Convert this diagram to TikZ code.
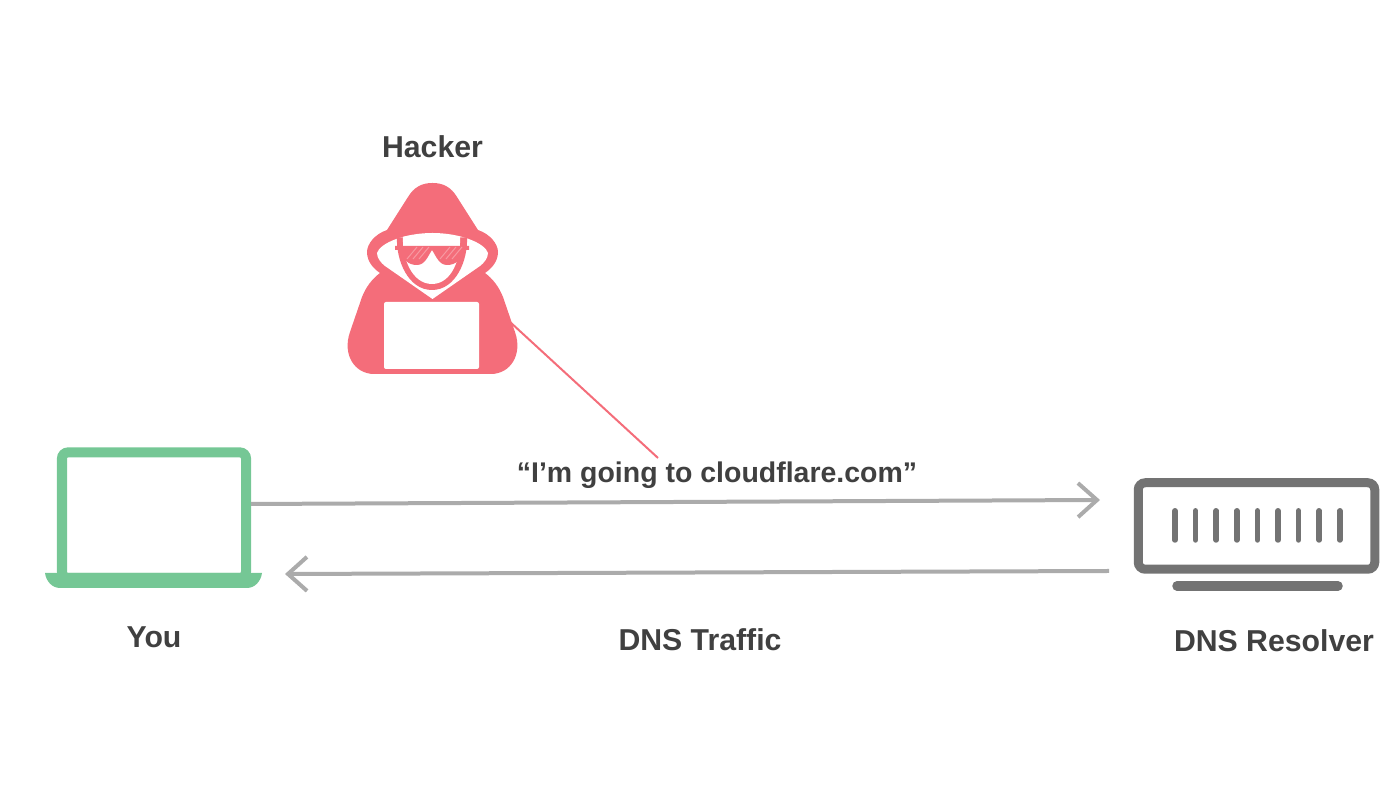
\documentclass[tikz,border=0pt]{standalone}
\usepackage{fontspec}
\setmainfont{Liberation Sans}
\usepackage{tikz}
\usetikzlibrary{arrows.meta, positioning}
\definecolor{youcolor}{HTML}{75C795}
\definecolor{hackercolor}{HTML}{F46D7A}
\definecolor{resolvercolor}{HTML}{737373}
\definecolor{trafficcolor}{HTML}{ABABAB}
\definecolor{labelcolor}{HTML}{404040}
\tikzset{%
  label/.style={font=\bfseries\fontsize{8.6}{10}\selectfont, text=labelcolor, inner sep=0pt},
  smalllabel/.style={label, font=\bfseries\fontsize{8.1}{10}\selectfont},
  youscreen/.style={rectangle, draw=youcolor, line width=0.1cm, rounded corners=0.06cm, minimum width=1.84cm, minimum height=1.255cm, inner sep=0pt},
  resolverbox/.style={rectangle, draw=resolvercolor, line width=0.09cm, rounded corners=0.07cm, minimum width=2.365cm, minimum height=0.865cm, inner sep=0pt},
  hackerscreen/.style={rectangle, fill=white, rounded corners=0.02cm, minimum width=0.95cm, minimum height=0.67cm, inner sep=0pt},
  line/.style={draw, trafficcolor, line width=0.04cm, -{Straight Barb[length=0.19cm, width=0.34cm]}},
  tapline/.style={draw, hackercolor, line width=0.02cm},
  rack/.style={draw, resolvercolor, line width=0.055cm, line cap=round}}
\begin{document}
\begin{tikzpicture}
    \useasboundingbox (0, 0) rectangle (14, 8);

    % hacker
    \fill [hackercolor] (4.325, 6.17) .. controls (4.22, 6.17) and (4.14, 6.13) .. (4.08, 6.03)
      -- (3.87, 5.70) .. controls (3.75, 5.66) and (3.67, 5.56) .. (3.67, 5.48)
      .. controls (3.67, 5.38) and (3.74, 5.31) .. (3.80, 5.27)
      .. controls (3.72, 5.21) and (3.66, 5.13) .. (3.62, 5.03)
      -- (3.50, 4.68) .. controls (3.42, 4.45) and (3.55, 4.26) .. (3.74, 4.26)
      -- (4.91, 4.26) .. controls (5.10, 4.26) and (5.23, 4.45) .. (5.15, 4.68)
      -- (5.03, 5.03) .. controls (4.99, 5.13) and (4.93, 5.21) .. (4.85, 5.27)
      .. controls (4.91, 5.31) and (4.98, 5.38) .. (4.98, 5.48)
      .. controls (4.98, 5.56) and (4.90, 5.66) .. (4.78, 5.70)
      -- (4.57, 6.03) .. controls (4.51, 6.13) and (4.43, 6.17) .. (4.325, 6.17) -- cycle;
    % collar
    \fill [white] (3.77, 5.47) .. controls (3.80, 5.57) and (4.05, 5.67) .. (4.325, 5.67)
      .. controls (4.60, 5.67) and (4.85, 5.57) .. (4.88, 5.47)
      .. controls (4.88, 5.42) and (4.84, 5.37) .. (4.80, 5.34)
      -- (4.325, 5.01) -- (3.85, 5.34)
      .. controls (3.81, 5.37) and (3.77, 5.42) .. (3.77, 5.47) -- cycle;
    % face
    \fill [hackercolor] (3.97, 5.625) .. controls (3.96, 5.40) and (4.08, 5.10) .. (4.32, 5.10)
      .. controls (4.56, 5.10) and (4.68, 5.40) .. (4.67, 5.625) -- cycle;
    \fill [white] (4.03, 5.63) .. controls (4.15, 5.665) and (4.49, 5.665) .. (4.60, 5.63)
      .. controls (4.61, 5.42) and (4.52, 5.16) .. (4.32, 5.16)
      .. controls (4.12, 5.16) and (4.02, 5.42) .. (4.03, 5.63) -- cycle;
    % glasses
    \fill [hackercolor] (3.95, 5.54) -- (4.69, 5.54) -- (4.69, 5.50) -- (4.62, 5.50)
      .. controls (4.61, 5.40) and (4.56, 5.35) .. (4.47, 5.35)
      .. controls (4.39, 5.35) and (4.36, 5.44) .. (4.32, 5.50)
      .. controls (4.28, 5.44) and (4.25, 5.35) .. (4.17, 5.35)
      .. controls (4.08, 5.35) and (4.03, 5.40) .. (4.02, 5.50) -- (3.95, 5.50) -- cycle;
    \foreach \i in {0, 1, 2} {
      \draw [white, opacity=0.3, line width=0.01cm] (4.07 + 0.06 * \i, 5.41) -- (4.17 + 0.06 * \i, 5.53);
      \draw [white, opacity=0.3, line width=0.01cm] (4.40 + 0.06 * \i, 5.41) -- (4.50 + 0.06 * \i, 5.53);
    }
    \node [hackerscreen] (tap) at (4.315, 4.645) {};
    \node [label] (hacker) at (4.325, 6.53) {Hacker};
    \coordinate (tapstart) at (5.10, 4.78);
    \coordinate (tapend) at (6.58, 3.42);
    \path [tapline] (tapstart) -- (tapend);

    % you
    \node [youscreen] (you) at (1.54, 2.848) {};
    \fill [youcolor] (0.45, 2.27) -- (2.62, 2.27) .. controls (2.61, 2.19) and (2.55, 2.12) .. (2.47, 2.12)
      -- (0.60, 2.12) .. controls (0.52, 2.12) and (0.46, 2.19) .. (0.45, 2.27) -- cycle;
    \node [label] (youlabel) at (1.54, 1.63) {You};

    % resolver
    \node [resolverbox] (resolver) at (12.565, 2.74) {};
    \foreach \i in {0, ..., 8} {
      \draw [rack] (11.75 + 0.206 * \i, 2.892) -- (11.75 + 0.206 * \i, 2.60);
    }
    \draw [resolvercolor, line width=0.095cm, line cap=round] (11.77, 2.14) -- (13.38, 2.14);
    \node [label] (resolverlabel) at (12.74, 1.59) {DNS Resolver};

    % traffic
    \coordinate (youout) at (2.51, 2.96);
    \coordinate (resolverin) at (11.00, 3.00);
    \coordinate (resolverout) at (11.09, 2.29);
    \coordinate (youin) at (2.85, 2.26);
    \path [line] (youout) -- (resolverin);
    \path [line] (resolverout) -- (youin);
    \node [smalllabel] (quote) at (7.17, 3.25) {“I’m going to cloudflare.com”};
    \node [label] (traffic) at (7.00, 1.60) {DNS Traffic};
\end{tikzpicture}
\end{document}
